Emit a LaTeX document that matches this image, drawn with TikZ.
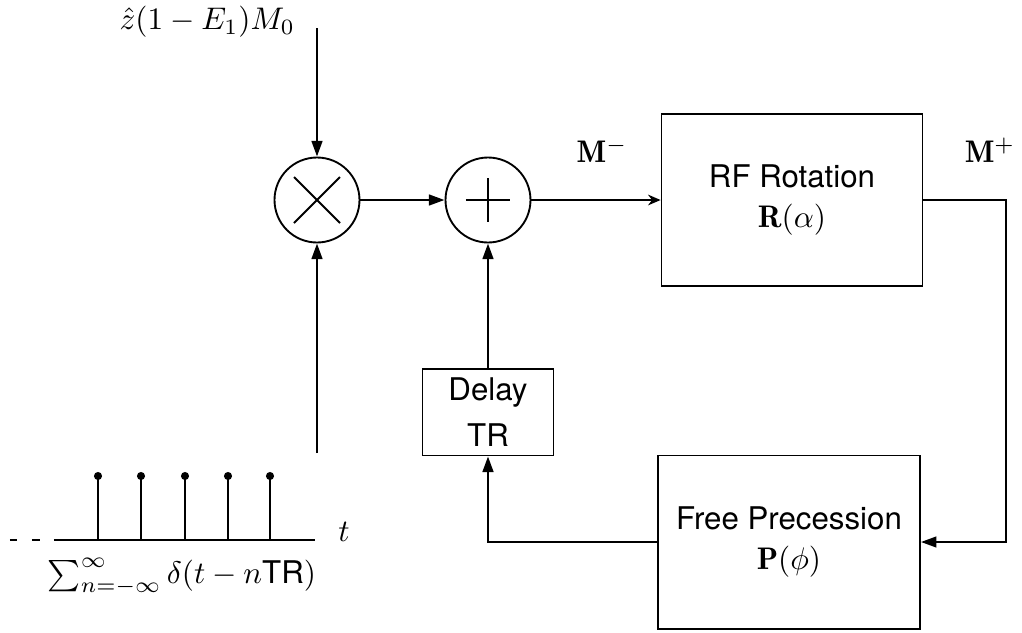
\documentclass[tikz,border=0pt]{standalone}
\usepackage{amsmath}
\usepackage{fontspec}
\setsansfont{TeX Gyre Heros}
\usetikzlibrary{arrows.meta}

\begin{document}
\begin{tikzpicture}[x=0.32pt, y=-0.32pt,
  blk/.style={rectangle, draw=black, semithick, font=\sffamily,
              align=center, inner sep=0pt},
  junc/.style={circle, draw=black, semithick, minimum size=27.2pt, inner sep=0pt},
  ar/.style={-{Triangle[length=5pt, width=3.4pt]}, thick},
  arr/.style={-{Stealth[length=4pt, width=3.4pt]}, thick},
  wire/.style={thick}
]
  \useasboundingbox (0,0) rectangle (1022,633);

  % junctions and blocks
  \node[junc] (mult) at (317,200) {};
  \node[junc] (add)  at (488,200) {};
  \node[blk, minimum width=83.5pt, minimum height=55pt] (rf) at (792,200)
       {RF Rotation\\[1pt]$\mathbf{R}(\alpha)$};
  \node[blk, minimum width=83.8pt, minimum height=55.4pt] (fp) at (789,542)
       {Free Precession\\[1pt]$\mathbf{P}(\phi)$};
  \node[blk, minimum width=41.9pt, minimum height=27.8pt] (delay) at (488,412)
       {Delay\\[2.5pt]TR};

  % symbols in the junctions
  \draw[semithick] ([shift={(-23,-23)}]mult.center) -- ([shift={(23,23)}]mult.center);
  \draw[semithick] ([shift={(-23,23)}]mult.center) -- ([shift={(23,-23)}]mult.center);
  \draw[semithick] ([shift={(-22,0)}]add.center) -- ([shift={(22,0)}]add.center);
  \draw[semithick] ([shift={(0,-22)}]add.center) -- ([shift={(0,22)}]add.center);

  % labels
  \node[anchor=east] (zlab) at (306,22) {$\hat{z}(1-E_1)M_0$};
  \node (mminus) at (602,150) {$\mathbf{M}^-$};
  \node (mplus)  at (990,150) {$\mathbf{M}^+$};

  % signal path
  \coordinate (zin) at (317,28);
  \coordinate (pin) at (317,453);
  \coordinate (rc)  at (1006,200);
  \draw[ar] (zin) -- (mult.north);
  \draw[ar] (pin) -- (mult.south);
  \draw[ar] (mult.east) -- (add.west);
  \draw[arr] (add.east) -- (rf.west);
  \draw[ar] (rf.east) -- (rc) |- (fp.east);
  \draw[ar] (fp.west) -| (delay.south);
  \draw[ar] (delay.north) -- (add.south);

  % impulse train
  \draw[wire] (10,540) -- (17,540);
  \draw[wire] (32,540) -- (40,540);
  \draw[wire] (54,540) -- (315,540);
  \foreach \sx in {98,141,185,228,270} {
    \draw[semithick] (\sx,540) -- (\sx,476);
    \fill (\sx,476) circle (1.3pt);
  }
  \node (tlab)   at (344,532) {$t$};
  \node (sumlab) at (182,577) {$\sum_{n=-\infty}^{\infty}\delta(t-n\textsf{TR})$};
\end{tikzpicture}
\end{document}
